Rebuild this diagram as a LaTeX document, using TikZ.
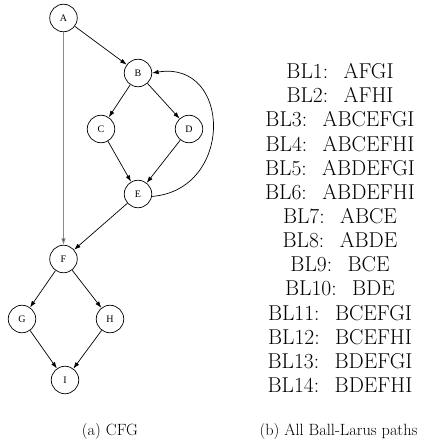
\documentclass[tikz,border=0pt]{standalone}
\usepackage{fontspec}
\newfontfamily\nodefont{Liberation Serif}
\usetikzlibrary{arrows.meta}
\begin{document}
\begin{tikzpicture}[x=1pt,y=-1pt,
  vtx/.style={draw, circle, minimum size=27.5pt, inner sep=0pt, line width=0.7pt,
    font=\nodefont\fontsize{10}{12}\selectfont},
  edge/.style={-{Latex[length=6.5pt,width=4.5pt]}, line width=0.7pt},
  grayedge/.style={edge, draw=black!45, -{Latex[length=6.5pt,width=4.5pt,fill=black!70]}},
  bl/.style={font=\fontsize{21.5}{24}\selectfont, inner sep=0pt},
  captext/.style={font=\fontsize{16.3}{18}\selectfont, inner sep=0pt}
]
\useasboundingbox (0,0) rectangle (431,444);
\node[vtx] (A) at (63.5,18) {A};
\node[vtx] (B) at (138,73) {B};
\node[vtx] (C) at (101,129) {C};
\node[vtx] (D) at (189,129) {D};
\node[vtx] (E) at (138,194) {E};
\node[vtx] (F) at (63.5,259) {F};
\node[vtx] (G) at (22,319) {G};
\node[vtx] (H) at (110,319) {H};
\node[vtx] (I) at (65,380) {I};

\draw[edge] (A) -- (B);
\draw[edge] (B) -- (C);
\draw[edge] (B) -- (D);
\draw[edge] (C) -- (E);
\draw[edge] (D) -- (E);
\draw[edge] (E) -- (F);
\draw[edge] (F) -- (G);
\draw[edge] (F) -- (H);
\draw[edge] (G) -- (I);
\draw[edge] (H) -- (I);
\draw[grayedge] (A) -- (F);
\draw[edge] (E.-10) .. controls (234,190) and (232,60) .. (B.east);

\node[bl] (l1) at (340,71) {BL1:\hspace{0.72em}AFGI};
\node[bl] (l2) at (340,95.2) {BL2:\hspace{0.72em}AFHI};
\node[bl] (l3) at (340,119.4) {BL3:\hspace{0.72em}ABCEFGI};
\node[bl] (l4) at (340,143.6) {BL4:\hspace{0.72em}ABCEFHI};
\node[bl] (l5) at (340,167.8) {BL5:\hspace{0.72em}ABDEFGI};
\node[bl] (l6) at (340,192) {BL6:\hspace{0.72em}ABDEFHI};
\node[bl] (l7) at (340,216.2) {BL7:\hspace{0.72em}ABCE};
\node[bl] (l8) at (340,240.4) {BL8:\hspace{0.72em}ABDE};
\node[bl] (l9) at (340,264.6) {BL9:\hspace{0.72em}BCE};
\node[bl] (l10) at (340,288.8) {BL10:\hspace{0.72em}BDE};
\node[bl] (l11) at (340,313) {BL11:\hspace{0.72em}BCEFGI};
\node[bl] (l12) at (340,337.2) {BL12:\hspace{0.72em}BCEFHI};
\node[bl] (l13) at (340,361.4) {BL13:\hspace{0.72em}BDEFGI};
\node[bl] (l14) at (340,385.6) {BL14:\hspace{0.72em}BDEFHI};

\node[captext] (ca) at (110,431) {(a) CFG};
\node[captext] (cb) at (338.5,431) {(b) All Ball-Larus paths};
\end{tikzpicture}
\end{document}
